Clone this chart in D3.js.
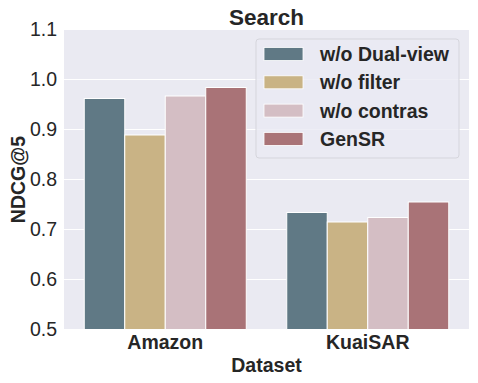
<!DOCTYPE html>
<html>
<head>
<meta charset="utf-8">
<script src="https://cdn.jsdelivr.net/npm/d3@7"></script>
<style>
  body { margin: 0; background: #fff; }
  text { font-family: "Liberation Sans", Arial, sans-serif; fill: #262626; }
</style>
</head>
<body>
<div id="chart"></div>
<script>
// data
const datasets = ['Amazon', 'KuaiSAR'];
const variants = ['w/o Dual-view', 'w/o filter', 'w/o contras', 'GenSR'];
const dualView = [0.962, 0.734];
const noFilter = [0.889, 0.715];
const noContras = [0.967, 0.724];
const genSR = [0.984, 0.755];
const yTicks = [0.5, 0.6, 0.7, 0.8, 0.9, 1.0, 1.1];
const colors = ['#607985', '#c9b385', '#d4bec4', '#a97377'];

const series = [dualView, noFilter, noContras, genSR];

const W = 478, H = 383;
const margin = {t: 29.5, r: 9, b: 53.5, l: 64};
const w = W - margin.l - margin.r;
const h = H - margin.t - margin.b;

const svg = d3.select('#chart').append('svg')
  .attr('width', W).attr('height', H);

const plot = svg.append('g')
  .attr('transform', `translate(${margin.l}, ${margin.t})`);

const x = d3.scaleBand().domain(datasets).range([0, w]).paddingInner(0.2).paddingOuter(0.1);
const xInner = d3.scaleBand().domain(variants).range([0, x.bandwidth()]);
const y = d3.scaleLinear().domain([0.5, 1.1]).range([h, 0]);

// background + grid
plot.append('rect').attr('width', w).attr('height', h).attr('fill', '#eaeaf2');
plot.selectAll('.grid').data(yTicks).enter()
  .append('line')
  .attr('class', 'grid')
  .attr('x1', 0).attr('x2', w)
  .attr('y1', d => y(d)).attr('y2', d => y(d))
  .attr('stroke', '#fff').attr('stroke-width', 1);

// bars
const groups = plot.selectAll('.group').data(datasets).enter()
  .append('g')
  .attr('class', 'group')
  .attr('transform', d => `translate(${x(d)}, 0)`);

groups.selectAll('rect')
  .data((d, i) => variants.map((v, j) => ({v: v, value: series[j][i], c: colors[j]})))
  .enter()
  .append('rect')
  .attr('x', d => xInner(d.v))
  .attr('width', xInner.bandwidth())
  .attr('y', d => y(d.value))
  .attr('height', d => h - y(d.value))
  .attr('fill', d => d.c)
  .attr('stroke', '#fff')
  .attr('stroke-width', 1);

// y axis
const yAxis = plot.append('g')
  .call(d3.axisLeft(y).tickValues(yTicks).tickFormat(d3.format('.1f')).tickSize(0).tickPadding(7));
yAxis.select('.domain').remove();
yAxis.selectAll('text').style('font-size', '19.5px').attr('fill', '#262626')
  .style('font-family', '"Liberation Sans", Arial, sans-serif');

// x axis
const xAxis = plot.append('g')
  .attr('transform', `translate(0, ${h})`)
  .call(d3.axisBottom(x).tickSize(0).tickPadding(6));
xAxis.select('.domain').remove();
xAxis.selectAll('text').style('font-size', '19.5px').style('font-weight', 'bold').attr('fill', '#262626')
  .style('font-family', '"Liberation Sans", Arial, sans-serif');

// labels
svg.append('text')
  .attr('x', margin.l + w / 2).attr('y', 25)
  .attr('text-anchor', 'middle')
  .style('font-size', '22.5px').style('font-weight', 'bold')
  .text('Search');

svg.append('text')
  .attr('x', margin.l + w / 2).attr('y', 372)
  .attr('text-anchor', 'middle')
  .style('font-size', '19.5px').style('font-weight', 'bold')
  .text('Dataset');

svg.append('text')
  .attr('transform', `translate(25, ${margin.t + h / 2}) rotate(-90)`)
  .attr('text-anchor', 'middle')
  .style('font-size', '19.5px').style('font-weight', 'bold')
  .text('NDCG@5');

// legend
const legend = svg.append('g').attr('transform', 'translate(256, 39)');
legend.append('rect')
  .attr('width', 203).attr('height', 119).attr('rx', 3)
  .attr('fill', '#eaeaf2').attr('fill-opacity', 0.8)
  .attr('stroke', '#d5d5dc').attr('stroke-width', 1);

const items = legend.selectAll('.item').data(variants).enter()
  .append('g')
  .attr('class', 'item')
  .attr('transform', (d, i) => `translate(0, ${15 + i * 28.3})`);
items.append('rect')
  .attr('x', 8).attr('y', -6.5).attr('width', 39).attr('height', 13)
  .attr('fill', (d, i) => colors[i])
  .attr('stroke', '#fff').attr('stroke-width', 0.8);
items.append('text')
  .attr('x', 64).attr('y', 7)
  .style('font-size', '19.5px').style('font-weight', 'bold')
  .text(d => d);
</script>
</body>
</html>
